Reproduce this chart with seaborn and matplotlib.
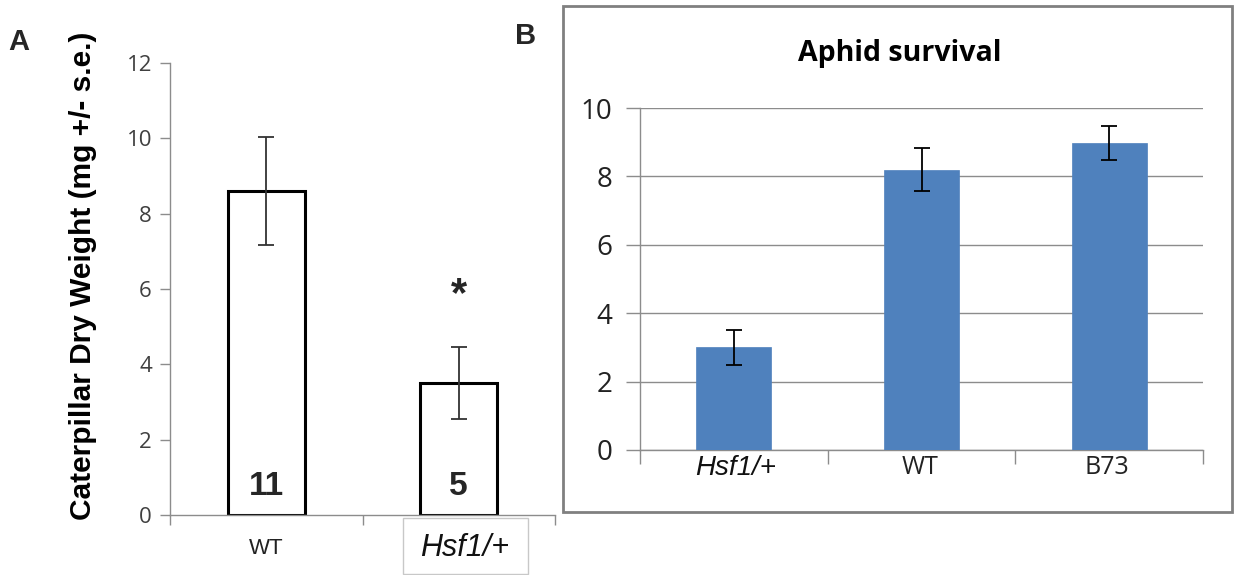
import numpy as np
import pandas as pd
import matplotlib
matplotlib.use("Agg")
import matplotlib.pyplot as plt
import seaborn as sns
from matplotlib.patches import Rectangle

# ---- data ----
a_categories = ["WT", "Hsf1/+"]
a_values = [8.6, 3.5]
a_err = [1.43, 0.95]
a_n = ["11", "5"]

b_categories = ["Hsf1/+", "WT", "B73"]
b_values = [3.0, 8.2, 8.97]
b_err = [0.5, 0.62, 0.5]

sns.set_theme(style="white")
plt.rcParams['font.family'] = ['Liberation Sans', 'DejaVu Sans']

fig = plt.figure(figsize=(12.34, 5.75), dpi=100)
W, H = 1234, 575

def rect(l, t, r, b):
    return [l / W, 1 - b / H, (r - l) / W, (b - t) / H]

tick_font = "Open Sans"
tick_color = "#404040"

# ---------- Panel A ----------
axA = fig.add_axes(rect(170, 63, 555, 515))
dfA = pd.DataFrame({"cat": a_categories, "val": a_values})
sns.barplot(data=dfA, x="cat", y="val", ax=axA, width=0.4, color="white",
            edgecolor="black", linewidth=2.2, errorbar=None)
axA.errorbar(np.arange(len(a_values)), a_values, yerr=a_err, fmt="none",
             ecolor="#333333", elinewidth=1.3, capsize=6, capthick=1.3)
axA.set_ylim(0, 12)
axA.set_xlim(-0.5, 1.5)
axA.set_yticks(np.arange(0, 13, 2))
axA.set_yticklabels([str(v) for v in range(0, 13, 2)], fontsize=16,
                    color=tick_color, family=tick_font)
for s in ["top", "right"]:
    axA.spines[s].set_visible(False)
for s in ["left", "bottom"]:
    axA.spines[s].set_color("#8c8c8c")
    axA.spines[s].set_linewidth(1)
axA.tick_params(axis="y", direction="out", length=7, color="#8c8c8c", width=1, pad=6, left=True)
axA.set_xticks([-0.5, 0.5, 1.5], minor=False)
axA.set_xticklabels([])
axA.tick_params(axis="x", direction="out", length=7, color="#8c8c8c", width=1, bottom=True)
axA.set_xlabel("")
axA.set_ylabel("Caterpillar Dry Weight (mg +/- s.e.)", fontsize=21.5, fontweight="bold",
               color="black")
axA.yaxis.set_label_coords(-0.19, 0.53)
for i, n in enumerate(a_n):
    axA.text(i, 0.75, n, ha="center", va="center", fontsize=24, fontweight="bold")
axA.text(1, 5.85, "*", ha="center", va="center", fontsize=30, fontweight="bold")

fig.text(266 / W, 1 - 548 / H, "WT", ha="center", va="center", fontsize=16,
         family="Liberation Sans", color="#222222")
fig.text(465 / W, 1 - 548 / H, "Hsf1/+", ha="center", va="center", fontsize=22,
         family="Liberation Sans", style="italic", color="#111111")
fig.patches.append(Rectangle((403 / W, 1 - 574 / H), 125 / W, 56 / H,
                             transform=fig.transFigure, fill=False,
                             edgecolor="#c8c8c8", linewidth=1))

# ---------- Panel B ----------
fig.patches.append(Rectangle((563 / W, 1 - 512 / H), 669 / W, 506 / H,
                             transform=fig.transFigure, fill=False,
                             edgecolor="#808080", linewidth=2))
axB = fig.add_axes(rect(640, 108, 1203, 450))
dfB = pd.DataFrame({"cat": b_categories, "val": b_values})
sns.barplot(data=dfB, x="cat", y="val", ax=axB, width=0.4, color="#4F81BD",
            saturation=1, edgecolor="#4F81BD", linewidth=0.5, errorbar=None, zorder=3)
axB.errorbar(np.arange(len(b_values)), b_values, yerr=b_err, fmt="none",
             ecolor="black", elinewidth=1.3, capsize=5.5, capthick=1.3, zorder=4)
axB.set_ylim(0, 10)
axB.set_xlim(-0.5, 2.5)
axB.set_yticks(np.arange(0, 11, 2))
axB.set_yticklabels([str(v) for v in range(0, 11, 2)], fontsize=20,
                    color="#222222", family=tick_font)
axB.yaxis.grid(True, color="#8c8c8c", linewidth=1)
axB.set_axisbelow(True)
for s in ["top", "right"]:
    axB.spines[s].set_visible(False)
for s in ["left", "bottom"]:
    axB.spines[s].set_color("#8c8c8c")
    axB.spines[s].set_linewidth(1)
axB.tick_params(axis="y", direction="out", length=10, color="#8c8c8c", width=1, pad=10, left=True)
axB.set_xticks([-0.5, 0.5, 1.5, 2.5])
axB.set_xticklabels([])
axB.tick_params(axis="x", direction="out", length=10, color="#8c8c8c", width=1, bottom=True)
axB.set_xlabel("")
axB.set_ylabel("")
label_y = 1 - 468 / H
fig.text(736 / W, label_y, "Hsf1/+", ha="center", va="center", fontsize=20,
         style="italic", color="#111111")
fig.text(920 / W, label_y, "WT", ha="center", va="center", fontsize=18,
         family=tick_font, color="#222222")
fig.text(1107 / W, label_y, "B73", ha="center", va="center", fontsize=18,
         family=tick_font, color="#222222")
fig.text(900 / W, 1 - 54 / H, "Aphid survival", ha="center", va="center",
         fontsize=20.5, fontweight="bold", family=tick_font, color="black")

# panel letters
fig.text(8 / W, 1 - 42 / H, "A", ha="left", va="center", fontsize=21, fontweight="bold")
fig.text(515 / W, 1 - 36 / H, "B", ha="left", va="center", fontsize=21, fontweight="bold")

fig.savefig("out.png", dpi=100)
